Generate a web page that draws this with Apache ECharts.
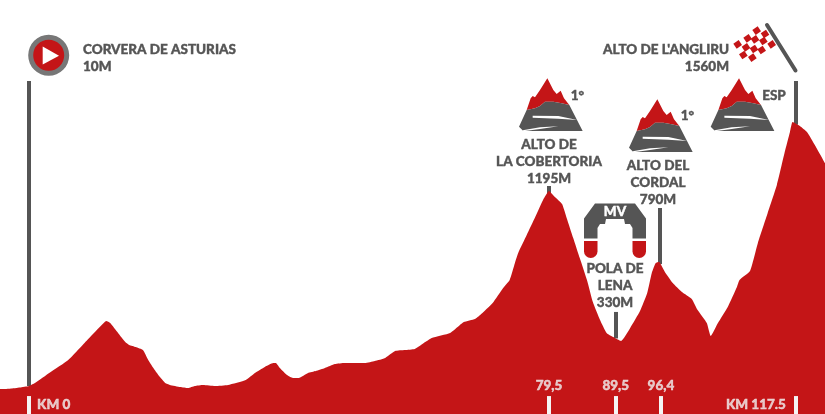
<!DOCTYPE html>
<html>
<head>
<meta charset="utf-8">
<style>
  html, body { margin: 0; padding: 0; background: #fff; }
  #main { width: 825px; height: 414px; }
</style>
<script src="https://cdn.jsdelivr.net/npm/echarts@6/dist/echarts.min.js"></script>
</head>
<body>
<div id="main"></div>
<script>
// stage profile, km and metres
var profileKm = [-4.43, -2.9, -1.4, 0, 0.9, 3.2, 6, 8.9, 10.8, 11.8, 12.4, 13.6, 14.7, 15.3, 16.3, 17.4, 18.2, 19.2, 20, 20.8, 21.5, 23.1, 24.3, 25.3, 26.6, 28.4, 30.4, 33.1, 34.5, 36, 37.3, 37.7, 38.3, 39.4, 40.3, 41.2, 42.6, 43.8, 45.2, 46.7, 48.2, 51.3, 52.8, 54.4, 55.9, 57.4, 58.9, 60.5, 61.5, 64.3, 65.8, 66.4, 68.1, 68.9, 70.8, 72.4, 73.4, 74.2, 74.7, 76, 77.3, 78.5, 79.4, 80.3, 81.4, 82.1, 83.1, 84.1, 85.2, 86.1, 87.2, 88.2, 89.2, 90.4, 91.8, 93.3, 94.4, 95.1, 95.7, 96.2, 97.1, 98.3, 99.7, 101.2, 102.1, 103.5, 104.1, 105.2, 106.7, 108.1, 108.5, 110.1, 111.3, 112.8, 114.2, 115.4, 116.2, 116.6, 117.7, 118.8, 120, 121.55]
var profileElev = [-6, -4, 3, 12, 29, 91, 164, 281, 357, 392, 380, 322, 269, 252, 240, 222, 164, 105, 64, 29, 18, 6, 0, 12, 18, 12, 18, 47, 88, 123, 146, 146, 117, 76, 59, 59, 88, 99, 117, 140, 146, 146, 158, 176, 216, 222, 228, 269, 293, 322, 369, 386, 404, 427, 497, 585, 632, 731, 790, 895, 1000, 1100, 1152, 1117, 1076, 995, 878, 761, 632, 503, 398, 322, 298, 275, 351, 450, 556, 673, 731, 737, 679, 614, 562, 521, 456, 380, 304, 380, 474, 591, 632, 684, 848, 1024, 1188, 1381, 1498, 1556, 1533, 1498, 1422, 1316]

// grey posts going up from the profile to each label
var postKm = [0, 79.4, 89.6, 96.3, 117.1]
var postTop = [1796, 1182, 445, 1053, 1796]
var postBase = [12, 1130, 290, 725, 1540]

// white km ticks along the bottom
var tickKm = [0, 79.4, 89.6, 96.5, 117.1]
var tickLabels = ['KM 0', '79,5', '89,5', '96,4', 'KM 117.5']

var startName = 'CORVERA DE ASTURIAS\n10M'
var finishName = "ALTO DE L'ANGLIRU\n1560M"
var climbNames = ['ALTO DE\nLA COBERTORIA\n1195M', 'ALTO DEL\nCORDAL\n790M', 'POLA DE\nLENA\n330M']
var climbCats = ['1°', '1°', 'ESP']

var RED = '#c41517'
var GREY = '#555555'
var FONT = 'Lato'

var myChart = echarts.init(document.getElementById('main'))

function txt(text, x, y, align, color, size) {
  return {
    type: 'text',
    x: x,
    y: y,
    z: 10,
    silent: true,
    style: {
      text: text,
      fill: color || GREY,
      stroke: color || GREY,
      lineWidth: 0.4,
      font: '900 ' + (size || 13.5) + 'px ' + FONT,
      align: align || 'center',
      verticalAlign: 'middle',
      lineHeight: 17,
    },
  }
}

function poly(points, color) {
  return {
    type: 'polygon',
    shape: { points: points },
    style: { fill: color },
    silent: true,
  }
}

// mountain icon, drawn at 3x and scaled down
function mountain(x, y) {
  return {
    type: 'group',
    x: x,
    y: y,
    scaleX: 1 / 3,
    scaleY: 1 / 3,
    children: [
      poly([[172, 25], [190, 60], [200, 72], [212, 62], [222, 85], [238, 105], [215, 100], [190, 95], [165, 95], [150, 108], [135, 115], [110, 120], [122, 85], [128, 78], [135, 82], [150, 60]], RED),
      poly([[110, 120], [135, 115], [150, 108], [165, 95], [190, 95], [215, 100], [238, 105], [278, 183], [100, 183], [87, 170]], GREY),
      poly([[128, 137], [205, 138], [262, 150], [205, 146], [128, 143]], '#fff'),
      poly([[98, 181], [150, 172], [205, 169], [150, 177], [100, 184]], '#fff'),
    ],
  }
}

// finish flag squares
var flagCells = [[95, 47], [120, 57], [68, 70], [90, 73], [115, 78], [140, 88], [38, 88], [63, 97], [87, 102], [110, 105], [55, 120], [82, 128]]
var flag = flagCells.map(function (c) {
  return poly([[c[0] + 3, c[1] - 13], [c[0] + 13, c[1] + 2], [c[0] - 3, c[1] + 13], [c[0] - 13, c[1] - 2]], RED)
})

var graphics = [
  // start badge
  { type: 'circle', shape: { cx: 48.7, cy: 55.3, r: 20.5 }, style: { fill: '#777777' }, silent: true },
  { type: 'circle', shape: { cx: 48.7, cy: 55.3, r: 15.5 }, style: { fill: RED }, silent: true },
  poly([[42.7, 46.5], [59, 55.8], [42.7, 64.5]], '#fff'),
  txt(startName, 83, 58.5, 'left'),
  // finish
  txt(finishName, 729, 58.5, 'right'),
  {
    type: 'group',
    x: 725,
    y: 15,
    scaleX: 1 / 3,
    scaleY: 1 / 3,
    children: flag,
  },
  {
    type: 'line',
    shape: { x1: 767, y1: 25, x2: 795.5, y2: 70.5 },
    style: { stroke: GREY, lineWidth: 4, lineCap: 'round' },
    silent: true,
  },
  // climbs
  mountain(490, 70),
  mountain(600, 91),
  mountain(681.7, 70),
  txt(climbCats[0], 577.5, 96, 'center'),
  txt(climbCats[1], 687.5, 116, 'center'),
  txt(climbCats[2], 774, 96, 'center'),
  txt(climbNames[0], 549, 162),
  txt(climbNames[1], 658, 183),
  txt(climbNames[2], 615, 286),
  // intermediate sprint arch
  {
    type: 'polygon',
    shape: {
      points: [[584, 218.5], [595, 203.5], [635, 203.5], [646, 218.5], [646, 238.5], [632.5, 238.5], [632.5, 228], [630, 224], [625, 224], [624, 219], [606, 219], [605, 224], [600, 224], [597.5, 228], [597.5, 238.5], [584, 238.5]],
    },
    style: { fill: GREY },
    silent: true,
  },
  { type: 'rect', shape: { x: 584, y: 241, width: 13.5, height: 17, r: [0, 0, 6.7, 6.7] }, style: { fill: RED }, silent: true },
  { type: 'rect', shape: { x: 632.5, y: 241, width: 13.5, height: 17, r: [0, 0, 6.7, 6.7] }, style: { fill: RED }, silent: true },
  txt('MV', 615, 211.5, 'center', '#fff'),
]

var profileData = profileKm.map(function (km, i) {
  return [km, profileElev[i]]
})

var postLines = postKm.map(function (km, i) {
  return [{ coord: [km, postTop[i]] }, { coord: [km, postBase[i]] }]
})

var tickLines = tickKm.map(function (km) {
  return [{ coord: [km, -47] }, { coord: [km, -152] }]
})

var tickPoints = tickKm.map(function (km, i) {
  var first = i === 0
  var last = i === tickKm.length - 1
  return {
    value: [km, first || last ? -96 : -47],
    label: {
      show: true,
      formatter: tickLabels[i],
      position: first ? 'right' : last ? 'left' : 'top',
      distance: first ? 8 : last ? 10 : 3,
    },
  }
})

var option = {
  animation: false,
  grid: { left: 0, right: 0, top: 0, bottom: 0 },
  xAxis: { type: 'value', min: -4.43, max: 121.55, show: false },
  yAxis: { type: 'value', min: -152, max: 2270, show: false },
  graphic: graphics,
  series: [
    {
      type: 'line',
      data: profileData,
      showSymbol: false,
      smooth: 0.15,
      lineStyle: { width: 0 },
      areaStyle: { color: RED, opacity: 1, origin: 'start' },
      silent: true,
      z: 2,
      markLine: {
        silent: true,
        symbol: 'none',
        animation: false,
        label: { show: false },
        lineStyle: { color: GREY, width: 4, type: 'solid' },
        data: postLines,
        z: 1,
      },
    },
    {
      type: 'line',
      data: [],
      silent: true,
      z: 3,
      markLine: {
        silent: true,
        symbol: 'none',
        animation: false,
        label: { show: false },
        lineStyle: { color: '#f4f4f4', width: 4, type: 'solid' },
        data: tickLines,
      },
    },
    {
      type: 'scatter',
      symbolSize: 0,
      silent: true,
      z: 4,
      label: { color: '#f0f0f0', fontFamily: FONT, fontWeight: 900, fontSize: 13.5, textBorderColor: '#f0f0f0', textBorderWidth: 0.4 },
      data: tickPoints,
    },
  ],
}

myChart.setOption(option)
</script>
</body>
</html>
